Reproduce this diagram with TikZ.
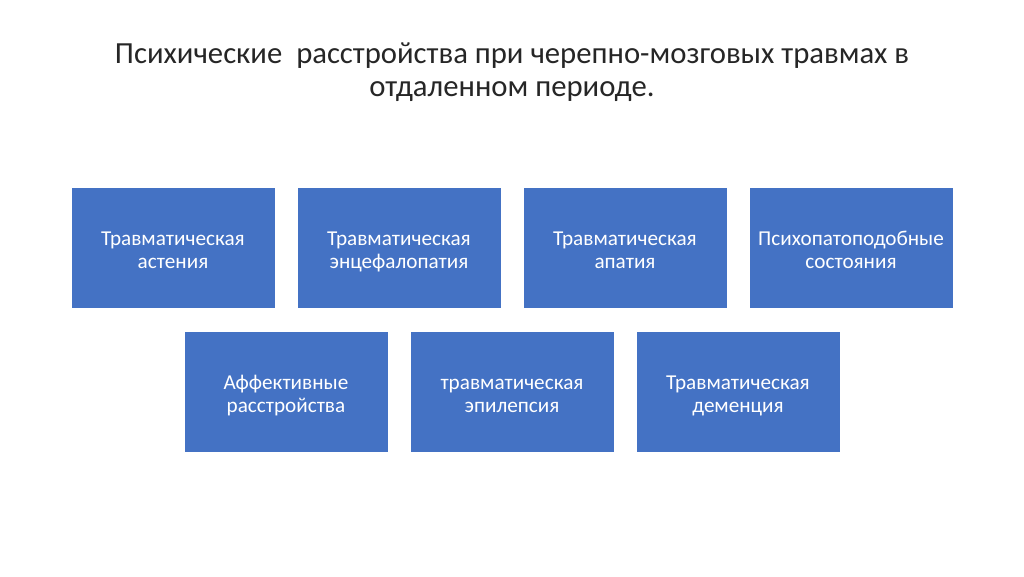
\documentclass[tikz,border=0pt]{standalone}
\usepackage{fontspec}
\setmainfont{Carlito}
\definecolor{boxblue}{HTML}{4472C4}
\definecolor{titlegray}{HTML}{262626}
\begin{document}
\begin{tikzpicture}[x=1pt,y=-1pt,
  box/.style={fill=boxblue,draw=white,line width=0.6pt,minimum width=204pt,minimum height=121pt,
    text=white,align=center,font=\fontsize{21.2}{23}\selectfont,inner sep=0pt,
    text height=41pt,text depth=0pt},
  title/.style={text=titlegray,align=center,font=\fontsize{30.7}{33}\selectfont,inner sep=0pt}]
\useasboundingbox (0,0) rectangle (1024,576);
\fill[white] (0,0) rectangle (1024,576);
\node[title] (t) at (512,72) {Психические~ расстройства при черепно-мозговых травмах в\\отдаленном периоде.};
\node[box] (a) at (173,247.5) {Травматическая\\астения};
\node[box] (b) at (399,247.5) {Травматическая\\энцефалопатия};
\node[box] (c) at (625,247.5) {Травматическая\\апатия};
\node[box] (d) at (851,247.5) {Психопатоподобные\\состояния};
\node[box] (e) at (286,391.5) {Аффективные\\расстройства};
\node[box] (f) at (512,391.5) {травматическая\\эпилепсия};
\node[box] (g) at (738,391.5) {Травматическая\\деменция};
\end{tikzpicture}
\end{document}
